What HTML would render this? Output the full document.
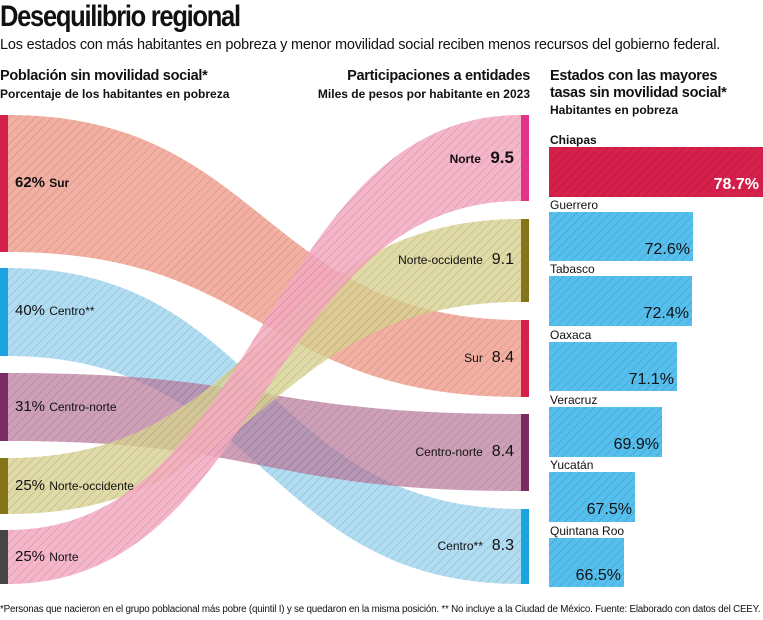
<!DOCTYPE html>
<html><head><meta charset="utf-8"><style>
body{margin:0;width:763px;height:620px;background:#fff;font-family:"Liberation Sans","DejaVu Sans",sans-serif;overflow:hidden;position:relative;color:#111}
.a{position:absolute;white-space:nowrap}
</style></head><body>
<div class="a" style="left:0;top:0;font-size:30px;font-weight:bold;letter-spacing:-1.5px;transform:scaleX(0.85);transform-origin:left">Desequilibrio regional</div>
<div class="a" style="left:0;top:37px;font-size:14.5px;letter-spacing:-0.2px">Los estados con más habitantes en pobreza y menor movilidad social reciben menos recursos del gobierno federal.</div>
<div class="a" style="left:0;top:68px;font-size:14.5px;font-weight:bold;letter-spacing:-0.3px">Población sin movilidad social*</div>
<div class="a" style="left:0;top:87px;font-size:12px;font-weight:bold">Porcentaje de los habitantes en pobreza</div>
<div class="a" style="right:233px;top:68px;font-size:14.5px;font-weight:bold;letter-spacing:-0.3px">Participaciones a entidades</div>
<div class="a" style="right:233px;top:87px;font-size:12px;font-weight:bold">Miles de pesos por habitante en 2023</div>
<div class="a" style="left:550px;top:68px;font-size:14.5px;font-weight:bold;line-height:17px;letter-spacing:-0.3px">Estados con las mayores<br>tasas sin movilidad social*</div>
<div class="a" style="left:550px;top:103px;font-size:12px;font-weight:bold">Habitantes en pobreza</div>
<svg class="a" style="left:0;top:0" width="763" height="620">
<defs>
<pattern id="h" width="6" height="6" patternUnits="userSpaceOnUse" patternTransform="rotate(45)"><line x1="0" y1="0" x2="0" y2="6" stroke="#000" stroke-opacity="0.2" stroke-width="1"/></pattern>
<path id="f1" d="M8,115 C264,115 264,320 521,320 L521,397 C264,397 264,252 8,252Z"/>
<path id="f2" d="M8,268 C264,268 264,509 521,509 L521,584 C264,584 264,356 8,356Z"/>
<path id="f3" d="M8,373 C264,373 264,414 521,414 L521,491 C264,491 264,441 8,441Z"/>
<path id="f4" d="M8,458 C264,458 264,219 521,219 L521,302 C264,302 264,514 8,514Z"/>
<path id="f5" d="M8,530 C264,530 264,115 521,115 L521,201 C264,201 264,584 8,584Z"/>
</defs>
<use href="#f1" fill="#f3b0a2"/><use href="#f1" fill="url(#h)"/>
<use href="#f2" fill="#a9d9f2" fill-opacity="0.9"/><use href="#f2" fill="url(#h)"/>
<use href="#f3" fill="#b9779a" fill-opacity="0.7"/><use href="#f3" fill="url(#h)"/>
<use href="#f4" fill="#d8d190" fill-opacity="0.8"/><use href="#f4" fill="url(#h)"/>
<use href="#f5" fill="#f4a9c0" fill-opacity="0.85"/><use href="#f5" fill="url(#h)"/>
<rect x="0" y="115" width="8" height="137" fill="#d4204b"/>
<rect x="0" y="268" width="8" height="88" fill="#1ba4e0"/>
<rect x="0" y="373" width="8" height="68" fill="#7b2a62"/>
<rect x="0" y="458" width="8" height="56" fill="#857519"/>
<rect x="0" y="530" width="8" height="54" fill="#454545"/>
<rect x="521" y="115" width="8" height="86" fill="#e2348b"/>
<rect x="521" y="219" width="8" height="83" fill="#857519"/>
<rect x="521" y="320" width="8" height="77" fill="#d4204b"/>
<rect x="521" y="414" width="8" height="77" fill="#7b2a62"/>
<rect x="521" y="509" width="8" height="75" fill="#1ba4e0"/>
<g>
<rect x="549" y="147" width="214" height="50" fill="#d4204b"/>
<rect x="549" y="212" width="144" height="49" fill="#55bfee"/>
<rect x="549" y="276" width="143" height="50" fill="#55bfee"/>
<rect x="549" y="342" width="128" height="49" fill="#55bfee"/>
<rect x="549" y="407" width="113" height="50" fill="#55bfee"/>
<rect x="549" y="472" width="86" height="50" fill="#55bfee"/>
<rect x="549" y="538" width="75" height="49" fill="#55bfee"/>
</g>
<g fill="url(#h)">
<rect x="549" y="147" width="214" height="50"/>
<rect x="549" y="212" width="144" height="49"/>
<rect x="549" y="276" width="143" height="50"/>
<rect x="549" y="342" width="128" height="49"/>
<rect x="549" y="407" width="113" height="50"/>
<rect x="549" y="472" width="86" height="50"/>
<rect x="549" y="538" width="75" height="49"/>
</g>
</svg>
<div class="a" style="left:15px;top:174px;font-size:15px;font-weight:bold">62% <span style="font-size:12px">Sur</span></div>
<div class="a" style="left:15px;top:302px;font-size:15px">40% <span style="font-size:12px">Centro**</span></div>
<div class="a" style="left:15px;top:398px;font-size:15px">31% <span style="font-size:12px">Centro-norte</span></div>
<div class="a" style="left:15px;top:477px;font-size:15px">25% <span style="font-size:12px">Norte-occidente</span></div>
<div class="a" style="left:15px;top:548px;font-size:15px">25% <span style="font-size:12px">Norte</span></div>
<div class="a" style="right:249px;top:148px;font-size:17px;font-weight:bold"><span style="font-size:12px">Norte</span>&nbsp; 9.5</div>
<div class="a" style="right:249px;top:251px;font-size:16px"><span style="font-size:12px">Norte-occidente</span>&nbsp; 9.1</div>
<div class="a" style="right:249px;top:349px;font-size:16px"><span style="font-size:12px">Sur</span>&nbsp; 8.4</div>
<div class="a" style="right:249px;top:443px;font-size:16px"><span style="font-size:12px">Centro-norte</span>&nbsp; 8.4</div>
<div class="a" style="right:249px;top:537px;font-size:16px"><span style="font-size:12px">Centro**</span>&nbsp; 8.3</div>
<div class="a" style="left:550px;top:133px;font-size:12px;font-weight:bold">Chiapas</div>
<div class="a" style="left:550px;top:198px;font-size:12px">Guerrero</div>
<div class="a" style="left:550px;top:262px;font-size:12px">Tabasco</div>
<div class="a" style="left:550px;top:328px;font-size:12px">Oaxaca</div>
<div class="a" style="left:550px;top:393px;font-size:12px">Veracruz</div>
<div class="a" style="left:550px;top:458px;font-size:12px">Yucatán</div>
<div class="a" style="left:550px;top:524px;font-size:12px">Quintana Roo</div>
<div class="a" style="right:4px;top:176px;font-size:16px;font-weight:bold;color:#fff">78.7%</div>
<div class="a" style="right:73px;top:241px;font-size:16px">72.6%</div>
<div class="a" style="right:74px;top:305px;font-size:16px">72.4%</div>
<div class="a" style="right:89px;top:371px;font-size:16px">71.1%</div>
<div class="a" style="right:104px;top:436px;font-size:16px">69.9%</div>
<div class="a" style="right:131px;top:501px;font-size:16px">67.5%</div>
<div class="a" style="right:142px;top:567px;font-size:16px">66.5%</div>
<div class="a" style="left:0;top:604px;font-size:9.8px;letter-spacing:-0.2px">*Personas que nacieron en el grupo poblacional más pobre (quintil I) y se quedaron en la misma posición. ** No incluye a la Ciudad de México. Fuente: Elaborado con datos del CEEY.</div>
</body></html>
